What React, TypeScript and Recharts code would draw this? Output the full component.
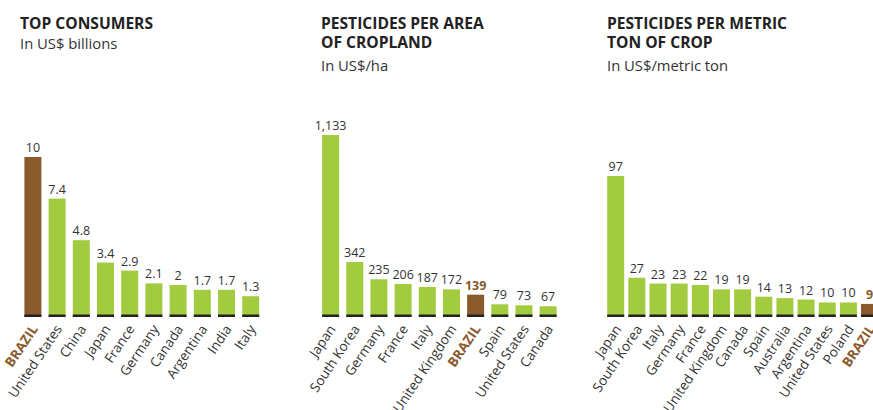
import { Bar, BarChart, LabelList, XAxis, YAxis } from "recharts";

const consumerCountries = ["BRAZIL", "United States", "China", "Japan", "France", "Germany", "Canada", "Argentina", "India", "Italy"];
const consumerValues = [10, 7.4, 4.8, 3.4, 2.9, 2.1, 2, 1.7, 1.7, 1.3];

const areaCountries = ["Japan", "South Korea", "Germany", "France", "Italy", "United Kingdom", "BRAZIL", "Spain", "United States", "Canada"];
const areaValues = [1133, 342, 235, 206, 187, 172, 139, 79, 73, 67];

const tonCountries = ["Japan", "South Korea", "Italy", "Germany", "France", "United Kingdom", "Canada", "Spain", "Australia", "Argentina", "United States", "Poland", "BRAZIL"];
const tonValues = [97, 27, 23, 23, 22, 19, 19, 14, 13, 12, 10, 10, 9];

const GREEN = "#a3cb3f";
const BROWN = "#8a5a2c";
const TEXT = "#333";
const FONT = "'Open Sans', sans-serif";
const BASE_Y = 317;
const H = 410;

function BarShape(props: any) {
  const { x, y, width, height, payload } = props;
  const fill = payload.country === "BRAZIL" ? BROWN : GREEN;
  return (
    <g>
      <rect x={x} y={y} width={width} height={height} fill={fill} />
      <rect x={x} y={y + height - 2.5} width={width} height={2.5} fill="#222" />
    </g>
  );
}

function Tick(props: any) {
  const { x, y, payload } = props;
  const brazil = payload.value === "BRAZIL";
  const tx = x + 6;
  const ty = y + 12;
  return (
    <text
      x={tx}
      y={ty}
      transform={`rotate(-56 ${tx} ${ty})`}
      textAnchor="end"
      fontFamily={FONT}
      fontSize={13.5}
      fontWeight={brazil ? 700 : 400}
      fill={brazil ? BROWN : TEXT}
    >
      {payload.value}
    </text>
  );
}

function Panel({
  countries,
  values,
  left,
  width,
  padLeft,
  padRight,
  plotTop,
  barSize,
  brownValue,
}: {
  countries: string[];
  values: number[];
  left: number;
  width: number;
  padLeft: number;
  padRight: number;
  plotTop: number;
  barSize: number;
  brownValue: boolean;
}) {
  const data = countries.map((country, i) => ({ country, value: values[i] }));
  const max = Math.max(...values);
  const renderLabel = (p: any) => {
    const { x, y, width: w, value, index } = p;
    const brazil = brownValue && countries[index] === "BRAZIL";
    return (
      <text
        x={x + w / 2}
        y={y - 5}
        textAnchor="middle"
        fontFamily={FONT}
        fontSize={12.5}
        fontWeight={brazil ? 700 : 400}
        fill={brazil ? BROWN : TEXT}
      >
        {Number(value).toLocaleString("en-US")}
      </text>
    );
  };
  return (
    <div style={{ position: "absolute", left, top: 0 }}>
      <BarChart
        width={width}
        height={H}
        data={data}
        margin={{ top: plotTop, right: padRight, bottom: 0, left: padLeft }}
      >
        <XAxis
          dataKey="country"
          height={H - BASE_Y}
          interval={0}
          tickLine={false}
          axisLine={false}
          tickSize={0}
          tickMargin={0}
          tick={<Tick />}
        />
        <YAxis hide domain={[0, max]} />
        <Bar dataKey="value" barSize={barSize} shape={<BarShape />} isAnimationActive={false}>
          <LabelList dataKey="value" content={renderLabel} />
        </Bar>
      </BarChart>
    </div>
  );
}

function Title({ left, lines, sub, subTop }: { left: number; lines: string[]; sub: string; subTop: number }) {
  return (
    <>
      <div
        style={{
          position: "absolute",
          left,
          top: 13.9,
          fontFamily: FONT,
          fontWeight: 700,
          fontSize: 15.6,
          lineHeight: "19px",
          color: "#222",
          whiteSpace: "nowrap",
        }}
      >
        {lines.map((l) => (
          <div key={l}>{l}</div>
        ))}
      </div>
      <div
        style={{
          position: "absolute",
          left,
          top: subTop,
          fontFamily: FONT,
          fontSize: 14.8,
          lineHeight: "18px",
          color: TEXT,
          whiteSpace: "nowrap",
        }}
      >
        {sub}
      </div>
    </>
  );
}

export default function App() {
  return (
    <div
      style={{
        position: "absolute",
        left: 0,
        top: 0,
        width: 873,
        height: H,
        overflow: "hidden",
        background: "#fff",
      }}
    >
      <Title left={20} lines={["TOP CONSUMERS"]} sub="In US$ billions" subTop={34} />
      <Title left={321} lines={["PESTICIDES PER AREA", "OF CROPLAND"]} sub="In US$/ha" subTop={55.6} />
      <Title left={607} lines={["PESTICIDES PER METRIC", "TON OF CROP"]} sub="In US$/metric ton" subTop={55.6} />
      <Panel
        countries={consumerCountries}
        values={consumerValues}
        left={0}
        width={280}
        padLeft={20.4}
        padRight={17.6}
        plotTop={157}
        barSize={17}
        brownValue={false}
      />
      <Panel
        countries={areaCountries}
        values={areaValues}
        left={280}
        width={300}
        padLeft={38.1}
        padRight={20.2}
        plotTop={135}
        barSize={17}
        brownValue={true}
      />
      <Panel
        countries={tonCountries}
        values={tonValues}
        left={570}
        width={320}
        padLeft={35.2}
        padRight={9.8}
        plotTop={176}
        barSize={17}
        brownValue={true}
      />
    </div>
  );
}
